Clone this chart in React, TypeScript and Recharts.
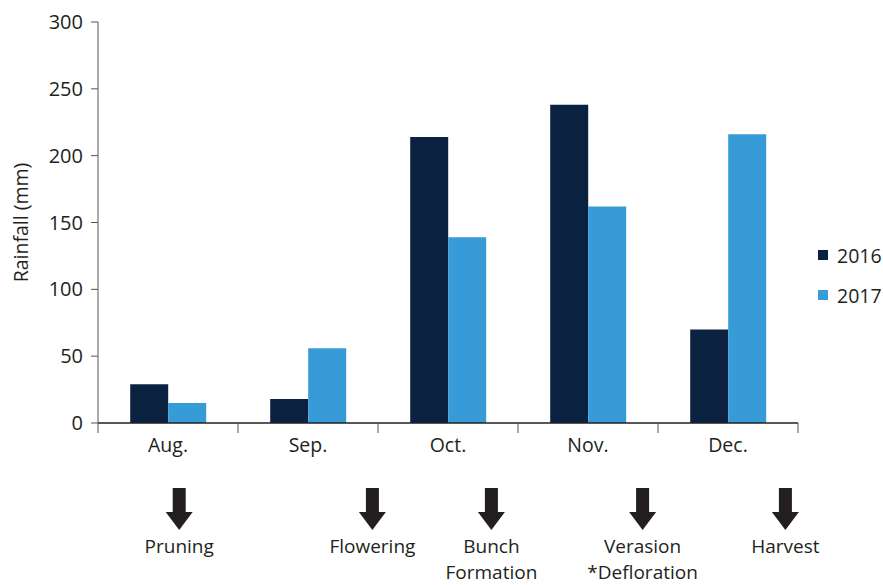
import React from 'react';
import { BarChart, Bar, XAxis, YAxis } from 'recharts';

const months = ['Aug.', 'Sep.', 'Oct.', 'Nov.', 'Dec.'];
const rain2016 = [29, 18, 214, 238, 70];
const rain2017 = [15, 56, 139, 162, 216];
const yTicks = [0, 50, 100, 150, 200, 250, 300];

const seriesNames = ['2016', '2017'];
const seriesColors = ['#0a2240', '#369bd6'];

// grapevine stages, placed along the month axis (in months from the start of Aug.)
const stageLabels = [['Pruning'], ['Flowering'], ['Bunch', 'Formation'], ['Verasion', '*Defloration'], ['Harvest']];
const stageAt = [0.58, 1.96, 2.81, 3.89, 4.91];

const FONT = '"Open Sans", "Noto Sans", sans-serif';
const TEXT = '#231f20';
const AXIS = '#555';

// plot geometry, used by the stage row under the chart
const PLOT_LEFT = 98;
const PLOT_RIGHT = 798;
const BAND = (PLOT_RIGHT - PLOT_LEFT) / months.length;

const data = months.map((m, i) => ({
  month: m,
  y2016: rain2016[i],
  y2017: rain2017[i],
}));

function MonthTick(props: any) {
  const { x, y, payload, index } = props;
  const half = BAND / 2;
  return (
    <g>
      <line x1={x - half} x2={x - half} y1={y - 15} y2={y - 5} stroke={AXIS} />
      {index === months.length - 1 && (
        <line x1={x + half} x2={x + half} y1={y - 15} y2={y - 5} stroke={AXIS} />
      )}
      <text x={x} y={y} dy="0.71em" textAnchor="middle" fill={TEXT} fontSize={19.5} fontFamily={FONT}>
        {payload.value}
      </text>
    </g>
  );
}

function StageRow() {
  return (
    <svg width={883} height={585} style={{ position: 'absolute', left: 0, top: 0, pointerEvents: 'none' }}>
      {stageLabels.map((lines, i) => {
        const cx = PLOT_LEFT + stageAt[i] * BAND;
        return (
          <g key={i}>
            <rect x={cx - 6.5} y={488} width={13} height={25} fill={TEXT} />
            <polygon points={`${cx - 13.5},512 ${cx + 13.5},512 ${cx},530`} fill={TEXT} />
            {lines.map((t, j) => (
              <text key={j} x={cx} y={553 + j * 26} textAnchor="middle" fill={TEXT} fontSize={19} fontFamily={FONT}>
                {t}
              </text>
            ))}
          </g>
        );
      })}
    </svg>
  );
}

function LegendBox() {
  return (
    <div style={{ position: 'absolute', left: 818, top: 241, fontFamily: FONT, fontSize: 19.5, color: TEXT }}>
      {seriesNames.map((name, i) => (
        <div key={name} style={{ display: 'flex', alignItems: 'center', height: 28, marginBottom: 12 }}>
          <span style={{ width: 10, height: 10, background: seriesColors[i], marginRight: 9, display: 'inline-block' }} />
          <span>{name}</span>
        </div>
      ))}
    </div>
  );
}

export default function App() {
  return (
    <div style={{ position: 'absolute', left: 0, top: 0, width: 883, height: 585, background: '#fff' }}>
      <BarChart
        width={883}
        height={585}
        data={data}
        margin={{ top: 22, right: 85, bottom: 0, left: 0 }}
        barCategoryGap="23%"
        barGap={0}
      >
        <XAxis
          dataKey="month"
          height={162}
          axisLine={{ stroke: TEXT, strokeWidth: 1.5 }}
          tickLine={false}
          tickSize={10}
          tickMargin={5}
          tick={<MonthTick />}
          interval={0}
        />
        <YAxis
          width={98}
          domain={[0, 300]}
          ticks={yTicks}
          axisLine={{ stroke: AXIS }}
          tickLine={{ stroke: AXIS }}
          tickSize={7}
          tickMargin={8}
          tick={{ fill: TEXT, fontSize: 20, fontFamily: FONT }}
          label={{
            value: 'Rainfall (mm)',
            angle: -90,
            position: 'insideLeft',
            offset: 21,
            style: { textAnchor: 'middle', fill: TEXT, fontSize: 19.5, fontFamily: FONT },
          }}
        />
        <Bar dataKey="y2016" name={seriesNames[0]} fill={seriesColors[0]} isAnimationActive={false} />
        <Bar dataKey="y2017" name={seriesNames[1]} fill={seriesColors[1]} isAnimationActive={false} />
      </BarChart>
      <StageRow />
      <LegendBox />
    </div>
  );
}
